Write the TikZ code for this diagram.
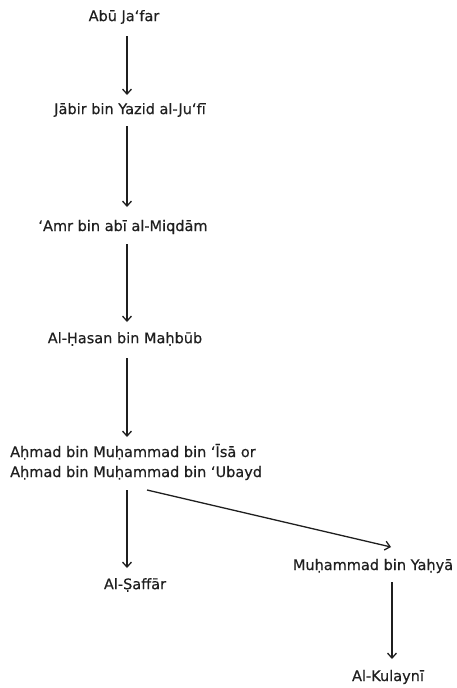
\documentclass[tikz,border=0pt]{standalone}
\usepackage{fontspec}
\setmainfont{DejaVu Sans}
\newfontfamily\lblfont[BoldFont=DejaVu Sans,BoldFeatures={FakeBold=0.5}]{DejaVu Sans}
\usetikzlibrary{arrows.meta}
\begin{document}
\begin{tikzpicture}[x=1pt,y=-1pt,
  lbl/.style={inner sep=1pt,font=\lblfont\bfseries\fontsize{14.5}{20}\selectfont,text=black!88},
  conn/.style={draw=black!88,line width=1.3pt,-{Straight Barb[length=5pt,width=9pt,line width=1.3pt]}}]
\useasboundingbox (0,0) rectangle (457,688);
\node[lbl] (a) at (124,17) {Abū Jaʻfar};
\node[lbl] (b) at (130,110) {Jābir bin Yazid al-Juʻfī};
\node[lbl] (c) at (123,227) {ʻAmr bin abī al-Miqdām};
\node[lbl] (d) at (125,339) {Al-Ḥasan bin Maḥbūb};
\node[lbl,align=left,anchor=west] (e) at (9,462) {Aḥmad bin Muḥammad bin ʻĪsā or\\Aḥmad bin Muḥammad bin ʻUbayd};
\node[lbl] (f) at (135,585) {Al-Ṣaffār};
\node[lbl] (g) at (373,566) {Muḥammad bin Yaḥyā};
\node[lbl] (h) at (388,677) {Al-Kulaynī};
\coordinate (a1) at (127,36); \coordinate (a2) at (127,95);
\coordinate (b1) at (127,126); \coordinate (b2) at (127,207);
\coordinate (c1) at (127,244); \coordinate (c2) at (127,322);
\coordinate (d1) at (127,358); \coordinate (d2) at (127,437);
\coordinate (e1) at (127,490); \coordinate (e2) at (127,568);
\coordinate (e3) at (147,490); \coordinate (g0) at (391,547);
\coordinate (g1) at (392,582); \coordinate (g2) at (392,659);
\draw[conn] (a1) -- (a2);
\draw[conn] (b1) -- (b2);
\draw[conn] (c1) -- (c2);
\draw[conn] (d1) -- (d2);
\draw[conn] (e1) -- (e2);
\draw[conn] (e3) -- (g0);
\draw[conn] (g1) -- (g2);
\end{tikzpicture}
\end{document}
